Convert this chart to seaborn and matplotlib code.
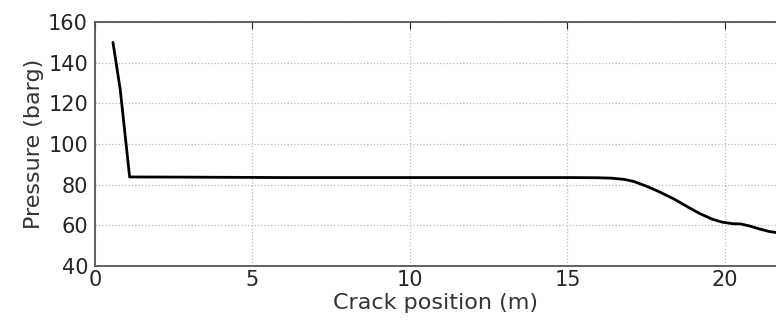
import pandas as pd
import matplotlib.pyplot as plt
import seaborn as sns

# crack position (m) and pressure (barg)
position = [0.57, 0.8, 1.1, 3.0, 6.0, 9.0, 12.0, 15.0, 16.0, 16.4, 16.8, 17.1, 17.5, 17.9,
            18.4, 18.8, 19.2, 19.6, 19.9, 20.25, 20.5, 20.8, 21.1, 21.4, 21.7]
pressure = [150.0, 127.0, 83.8, 83.7, 83.5, 83.5, 83.5, 83.5, 83.4, 83.2, 82.6, 81.6, 79.3, 76.6,
            72.8, 69.2, 65.8, 63.0, 61.6, 60.8, 60.7, 59.6, 58.2, 57.0, 56.3]

df = pd.DataFrame({"Crack position (m)": position, "Pressure (barg)": pressure})

sns.set_style("white")
plt.rcParams['font.family'] = ['DejaVu Sans']

fig = plt.figure(figsize=(7.76, 3.21), dpi=100)
ax = fig.add_axes([0.1224, 0.1713, 0.8776, 0.7602])
sns.lineplot(data=df, x="Crack position (m)", y="Pressure (barg)", color="black",
             linewidth=2, ax=ax, sort=False)

ax.set_xlim(0, 21.62)
ax.set_ylim(40, 160)
ax.set_xticks([0, 5, 10, 15, 20])
ax.set_yticks(range(40, 161, 20))
ax.grid(True, linestyle=":", color="#bbbbbb", linewidth=0.9)
ax.tick_params(direction="in", top=True, right=False, length=5, labelsize=15)
ax.tick_params(axis="x", pad=3)
ax.tick_params(axis="y", pad=5)
ax.spines["right"].set_visible(False)
for s in ["top", "left", "bottom"]:
    ax.spines[s].set_color("#555555")
    ax.spines[s].set_linewidth(1.3)
ax.set_xlabel("Crack position (m)", fontsize=16, color="#333333", labelpad=2)
ax.set_ylabel("Pressure (barg)", fontsize=16, color="#333333", labelpad=3)

fig.savefig("out.png", dpi=100)
